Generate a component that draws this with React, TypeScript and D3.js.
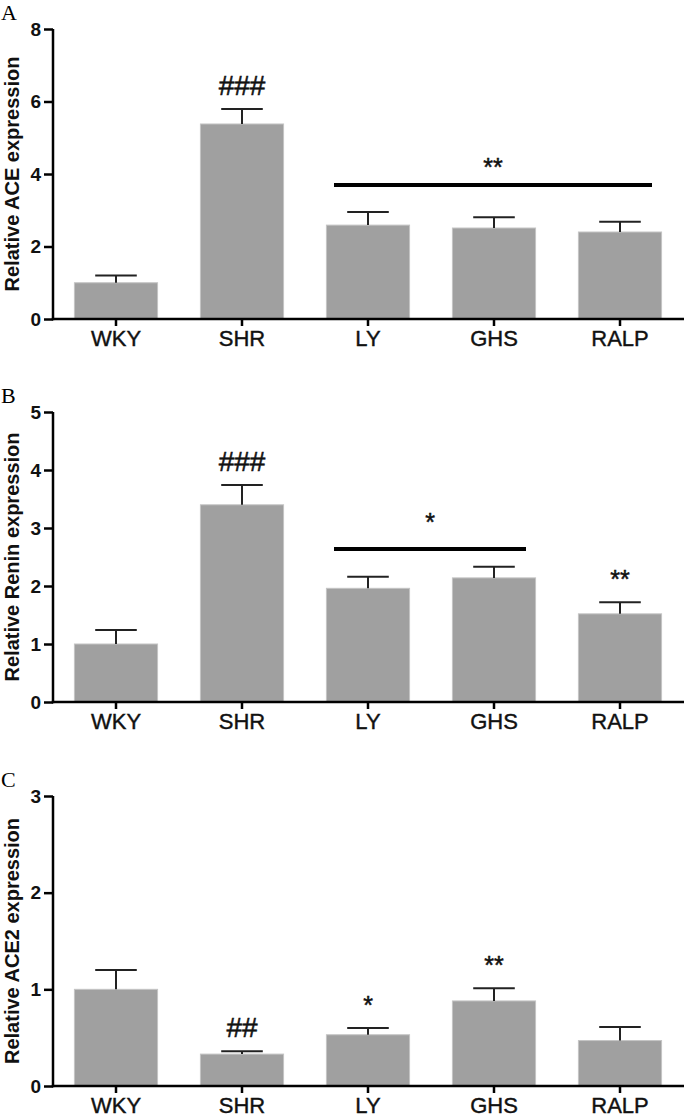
import React, { useEffect, useRef } from "react";
import * as d3 from "d3";

const groups = ["WKY", "SHR", "LY", "GHS", "RALP"];

const aceMean = [1.0, 5.38, 2.59, 2.51, 2.4];
const aceErr = [0.2, 0.41, 0.36, 0.3, 0.28];
const aceMarks = ["", "###", "", "", ""];

const reninMean = [1.0, 3.4, 1.96, 2.14, 1.52];
const reninErr = [0.24, 0.34, 0.2, 0.19, 0.2];
const reninMarks = ["", "###", "", "", "**"];

const ace2Mean = [1.0, 0.33, 0.53, 0.88, 0.47];
const ace2Err = [0.2, 0.03, 0.07, 0.13, 0.14];
const ace2Marks = ["", "##", "*", "**", ""];

const panels = [
  { letter: "A", title: "Relative ACE expression", mean: aceMean, err: aceErr, marks: aceMarks, max: 8, step: 2,
    top: 29, bottom: 319, bracket: { from: "LY", to: "RALP", value: 3.7, label: "**", gap: 9 } },
  { letter: "B", title: "Relative Renin expression", mean: reninMean, err: reninErr, marks: reninMarks, max: 5, step: 1,
    top: 412, bottom: 702, bracket: { from: "LY", to: "GHS", value: 2.64, label: "*", gap: 18 } },
  { letter: "C", title: "Relative ACE2 expression", mean: ace2Mean, err: ace2Err, marks: ace2Marks, max: 3, step: 1,
    top: 796, bottom: 1086, bracket: null },
];

const W = 685;
const H = 1120;
const axisX = 53;
const sans = "Arial, 'Liberation Sans', sans-serif";

export default function App() {
  const ref = useRef<SVGSVGElement>(null);

  useEffect(() => {
    const svg = d3.select(ref.current);
    svg.selectAll("*").remove();

    const x = d3.scaleBand().domain(groups).range([axisX, 683]).paddingInner(0.34).paddingOuter(0.17);
    const bw = x.bandwidth();

    panels.forEach((p) => {
      const y = d3.scaleLinear().domain([0, p.max]).range([p.bottom, p.top]);
      const g = svg.append("g");

      // panel letter
      g.append("text").attr("x", 1).attr("y", p.top - 9)
        .attr("font-family", "'Liberation Serif', 'Times New Roman', serif").attr("font-size", 22)
        .text(p.letter);

      // y title
      g.append("text")
        .attr("transform", `translate(19, ${(p.top + p.bottom) / 2}) rotate(-90)`)
        .attr("text-anchor", "middle").attr("font-family", sans).attr("font-weight", "bold")
        .attr("font-size", 20).attr("fill", "#111")
        .text(p.title);

      // bars
      g.selectAll("rect.bar").data(groups).join("rect").attr("class", "bar")
        .attr("x", (d) => x(d)!).attr("width", bw)
        .attr("y", (d, i) => y(p.mean[i])).attr("height", (d, i) => p.bottom - y(p.mean[i]))
        .attr("fill", "#a0a0a0").attr("stroke", "#c4c4c4").attr("stroke-width", 1);

      // error bars
      groups.forEach((d, i) => {
        const cx = x(d)! + bw / 2;
        const yt = y(p.mean[i] + p.err[i]);
        g.append("line").attr("x1", cx).attr("x2", cx).attr("y1", y(p.mean[i])).attr("y2", yt)
          .attr("stroke", "#222").attr("stroke-width", 2);
        g.append("line").attr("x1", cx - bw / 4).attr("x2", cx + bw / 4).attr("y1", yt).attr("y2", yt)
          .attr("stroke", "#222").attr("stroke-width", 2);
        if (p.marks[i]) {
          const isHash = p.marks[i].startsWith("#");
          g.append("text").attr("x", cx).attr("y", yt - 14)
            .attr("text-anchor", "middle").attr("font-family", sans)
            .attr("font-size", isHash ? 28 : 25).attr("fill", "#111")
            .attr("stroke", "#111").attr("stroke-width", 0.5)
            .text(p.marks[i]);
        }
      });

      // bracket
      if (p.bracket) {
        const b = p.bracket;
        const x1 = x(b.from)! + bw / 2 - 34;
        const x2 = x(b.to)! + bw / 2 + 32;
        const yb = y(b.value);
        g.append("line").attr("x1", x1).attr("x2", x2).attr("y1", yb).attr("y2", yb)
          .attr("stroke", "#000").attr("stroke-width", 4);
        g.append("text").attr("x", (x1 + x2) / 2).attr("y", yb - b.gap)
          .attr("text-anchor", "middle").attr("font-family", sans).attr("font-size", 25).attr("fill", "#111")
          .attr("stroke", "#111").attr("stroke-width", 0.5)
          .text(b.label);
      }

      // axes
      const yAxis = d3.axisLeft(y).tickValues(d3.range(0, p.max + 0.001, p.step)).tickSize(9).tickPadding(3)
        .tickFormat(d3.format("d"));
      const ya = g.append("g").attr("transform", `translate(${axisX},0)`).call(yAxis);
      ya.select(".domain").attr("stroke", "#000").attr("stroke-width", 2.5).attr("d", `M0,${p.top}V${p.bottom + 1.25}`);
      ya.selectAll(".tick line").attr("stroke", "#000").attr("stroke-width", 2.5);
      ya.selectAll(".tick text").attr("font-family", sans).attr("font-weight", "bold").attr("font-size", 19).attr("fill", "#111");

      const xAxis = d3.axisBottom(x).tickSize(7).tickPadding(4);
      const xa = g.append("g").attr("transform", `translate(0,${p.bottom})`).call(xAxis);
      xa.select(".domain").attr("stroke", "#000").attr("stroke-width", 2.5).attr("d", `M${axisX - 1.25},0H684`);
      xa.selectAll(".tick line").attr("stroke", "#000").attr("stroke-width", 2.5);
      xa.selectAll(".tick text").attr("font-family", sans).attr("font-size", 22).attr("fill", "#111")
        .attr("stroke", "#111").attr("stroke-width", 0.4);
    });
  }, []);

  return <svg ref={ref} width={W} height={H} style={{ position: "absolute", left: 0, top: 0, background: "#fff" }} />;
}
